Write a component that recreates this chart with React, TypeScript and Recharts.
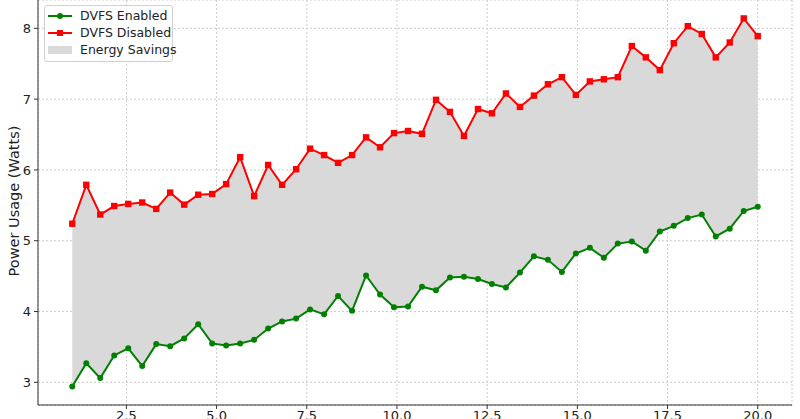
import { ComposedChart, Line, Area, XAxis, YAxis, CartesianGrid } from 'recharts';

const xValues = [
  1.0, 1.388, 1.776, 2.163, 2.551, 2.939, 3.327, 3.714, 4.102, 4.49,
  4.878, 5.265, 5.653, 6.041, 6.429, 6.816, 7.204, 7.592, 7.98, 8.367,
  8.755, 9.143, 9.531, 9.918, 10.306, 10.694, 11.082, 11.469, 11.857, 12.245,
  12.633, 13.02, 13.408, 13.796, 14.184, 14.571, 14.959, 15.347, 15.735, 16.122,
  16.51, 16.898, 17.286, 17.673, 18.061, 18.449, 18.837, 19.224, 19.612, 20.0,
];

const dvfsEnabled = [
  2.94, 3.27, 3.06, 3.38, 3.48, 3.23, 3.54, 3.51, 3.62, 3.82,
  3.55, 3.52, 3.55, 3.6, 3.76, 3.86, 3.9, 4.03, 3.96, 4.22,
  4.01, 4.51, 4.24, 4.06, 4.07, 4.35, 4.3, 4.48, 4.49, 4.46,
  4.39, 4.34, 4.55, 4.78, 4.73, 4.56, 4.82, 4.9, 4.76, 4.96,
  4.99, 4.86, 5.13, 5.21, 5.32, 5.37, 5.06, 5.17, 5.42, 5.48,
];

const dvfsDisabled = [
  5.24, 5.79, 5.37, 5.49, 5.52, 5.54, 5.45, 5.68, 5.51, 5.65,
  5.66, 5.8, 6.18, 5.63, 6.07, 5.79, 6.01, 6.3, 6.21, 6.1,
  6.21, 6.46, 6.32, 6.52, 6.55, 6.51, 6.99, 6.82, 6.48, 6.86,
  6.8, 7.08, 6.89, 7.05, 7.21, 7.31, 7.06, 7.25, 7.28, 7.31,
  7.75, 7.59, 7.41, 7.79, 8.03, 7.92, 7.59, 7.8, 8.14, 7.89,
];

const xTicks = [2.5, 5, 7.5, 10, 12.5, 15, 17.5, 20];
const yTicks = [3, 4, 5, 6, 7, 8];

const data = xValues.map((x, i) => ({
  x,
  enabled: dvfsEnabled[i],
  disabled: dvfsDisabled[i],
  savings: [dvfsEnabled[i], dvfsDisabled[i]],
}));

const FONT = '"DejaVu Sans", sans-serif';
const GREEN = '#008000';
const RED = '#ff0000';
const FILL = '#d9d9d9';

const SquareDot = (props: any) => {
  const { cx, cy, index } = props;
  if (cx == null || cy == null) return null;
  return <rect key={`sq-${index}`} x={cx - 3.2} y={cy - 3.2} width={6.4} height={6.4} fill={RED} />;
};

const LegendBox = () => (
  <div
    style={{
      position: 'absolute',
      left: 44,
      top: 5,
      width: 127,
      height: 55,
      border: '1px solid #d0d0d0',
      borderRadius: 3,
      background: 'rgba(255,255,255,0.85)',
      fontFamily: FONT,
      fontSize: 12.5,
      color: '#222',
    }}
  >
    <svg width={32} height={55} style={{ position: 'absolute', left: 0, top: 0 }}>
      <line x1={3} x2={27} y1={10} y2={10} stroke={GREEN} strokeWidth={2} />
      <circle cx={15} cy={10} r={3} fill={GREEN} />
      <line x1={3} x2={27} y1={27} y2={27} stroke={RED} strokeWidth={2} />
      <rect x={12} y={24} width={6} height={6} fill={RED} />
      <rect x={3} y={40} width={24} height={8} fill={FILL} />
    </svg>
    <div style={{ position: 'absolute', left: 35, top: 1, lineHeight: '17px', whiteSpace: 'nowrap' }}>
      <div>DVFS Enabled</div>
      <div>DVFS Disabled</div>
      <div>Energy Savings</div>
    </div>
  </div>
);

export default function App() {
  return (
    <div style={{ position: 'relative', width: 800, height: 419, overflow: 'hidden', background: '#fff' }}>
      <style>{'body{margin:0;}'}</style>
      <ComposedChart
        width={800}
        height={419}
        data={data}
        margin={{ top: 0, right: 8, bottom: 0, left: 0 }}
      >
        <CartesianGrid strokeDasharray="2 2" stroke="#cccccc" />
        <XAxis
          dataKey="x"
          type="number"
          domain={[0.05, 20.95]}
          allowDataOverflow
          ticks={xTicks}
          tickFormatter={(v: number) => v.toFixed(1)}
          height={14}
          tickSize={4}
          tickMargin={2}
          stroke="#333"
          tick={{ fill: '#222', fontSize: 13, fontFamily: FONT }}
        />
        <YAxis
          type="number"
          domain={[2.68, 8.4]}
          allowDataOverflow
          ticks={yTicks}
          width={38}
          tickSize={4}
          tickMargin={3}
          stroke="#333"
          tick={{ fill: '#222', fontSize: 13, fontFamily: FONT }}
        />
        <Area
          dataKey="savings"
          type="linear"
          fill={FILL}
          fillOpacity={1}
          stroke="none"
          isAnimationActive={false}
        />
        <Line
          dataKey="enabled"
          type="linear"
          stroke={GREEN}
          strokeWidth={2}
          dot={{ r: 3, fill: GREEN, stroke: GREEN, strokeWidth: 0 }}
          isAnimationActive={false}
        />
        <Line
          dataKey="disabled"
          type="linear"
          stroke={RED}
          strokeWidth={2}
          dot={SquareDot}
          isAnimationActive={false}
        />
      </ComposedChart>
      <div
        style={{
          position: 'absolute',
          left: 14,
          top: 201,
          transform: 'translate(-50%, -50%) rotate(-90deg)',
          fontFamily: FONT,
          fontSize: 14.5,
          color: '#222',
          whiteSpace: 'nowrap',
        }}
      >
        Power Usage (Watts)
      </div>
      <LegendBox />
    </div>
  );
}
